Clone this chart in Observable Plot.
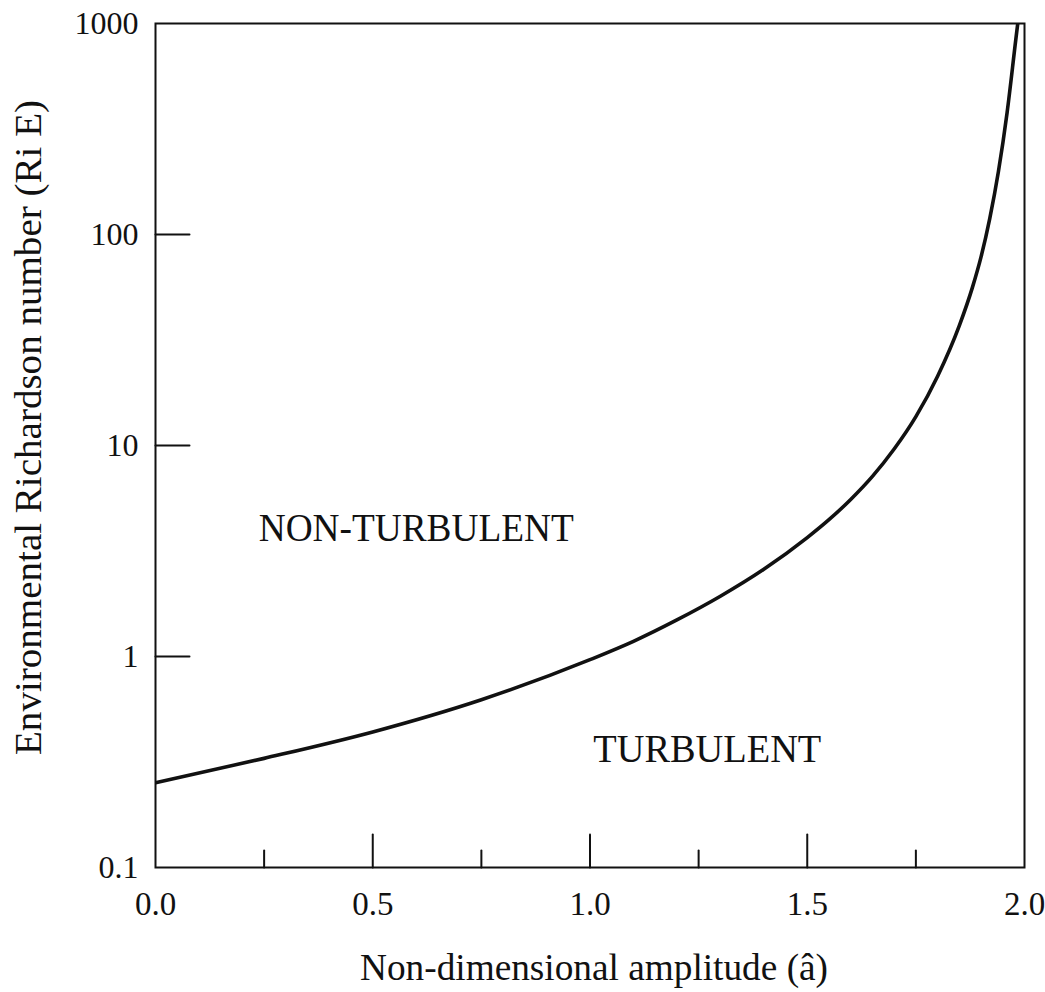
<!DOCTYPE html>
<html>
<head>
<meta charset="utf-8">
<script src="https://cdn.jsdelivr.net/npm/d3@7"></script>
<script src="https://cdn.jsdelivr.net/npm/@observablehq/plot@0.6"></script>
<style>
  html, body { margin: 0; padding: 0; background: #fff; }
  #chart svg { display: block; }
</style>
</head>
<body>
<div id="chart"></div>
<script>
// ---- data ----
const amplitude  = [0, 0.25, 0.5, 0.75, 1.0, 1.1, 1.2, 1.3, 1.4, 1.5, 1.55, 1.6, 1.65, 1.7, 1.75, 1.8, 1.85, 1.88, 1.9, 1.92, 1.94, 1.96, 1.98, 1.9845];
const richardson = [0.252, 0.329, 0.439, 0.624, 0.966, 1.18, 1.49, 1.93, 2.59, 3.66, 4.45, 5.55, 7.14, 9.62, 13.7, 21.3, 37.0, 56.0, 78.3, 119, 199, 379, 839, 1000];

const xTickValues = [0, 0.5, 1.0, 1.5, 2.0];
const xMajorTicks = [0.5, 1.0, 1.5];
const xMinorTicks = [0.25, 0.75, 1.25, 1.75];
const yTickValues = [0.1, 1, 10, 100, 1000];
const yTickLabels = ["0.1", "1", "10", "100", "1000"];
const yInnerTicks = [1, 10, 100];

const regionNames     = ["NON-TURBULENT", "TURBULENT"];
const regionAmplitude = [0.60, 1.27];
const regionRi        = [4.07, 0.362];

const xTitle = "Non-dimensional amplitude (\u00e2)";
const yTitle = "Environmental Richardson number (Ri E)";

// ---- styling ----
const ink = "#111";
const serif = "'Liberation Serif', 'Times New Roman', Times, serif";
const textLengths = new Map([
  ["NON-TURBULENT", 315],
  ["TURBULENT", 228],
  [xTitle, 468],
  [yTitle, 655]
]);
const tickShape = {
  draw(context, l) { context.moveTo(0, 0); context.lineTo(0, -l); }
};

const curve = amplitude.map((a, i) => ({a, ri: richardson[i]}));

const chart = Plot.plot({
  width: 1045,
  height: 992,
  marginLeft: 155,
  marginRight: 21,
  marginTop: 23,
  marginBottom: 125,
  style: {fontFamily: serif, color: ink, background: "#fff"},
  x: {domain: [0, 2]},
  y: {type: "log", domain: [0.1, 1000]},
  marks: [
    Plot.axisX(xTickValues, {
      tickSize: 0, tickPadding: 24, fontSize: 33,
      tickFormat: d3.format(".1f"), label: null
    }),
    Plot.axisY(yTickValues, {
      tickSize: 0, tickPadding: 17, fontSize: 32,
      tickFormat: d => yTickLabels[yTickValues.indexOf(d)], label: null
    }),
    Plot.frame({stroke: ink, strokeWidth: 2}),
    Plot.vector(xMajorTicks, {
      x: d => d, frameAnchor: "bottom", length: 33, rotate: 0,
      anchor: "start", shape: tickShape, stroke: ink, strokeWidth: 2, fill: "none"
    }),
    Plot.vector(xMinorTicks, {
      x: d => d, frameAnchor: "bottom", length: 17, rotate: 0,
      anchor: "start", shape: tickShape, stroke: ink, strokeWidth: 2, fill: "none"
    }),
    Plot.vector(yInnerTicks, {
      y: d => d, frameAnchor: "left", length: 34, rotate: 90,
      anchor: "start", shape: tickShape, stroke: ink, strokeWidth: 2, fill: "none"
    }),
    Plot.line(curve, {
      x: "a", y: "ri", curve: "monotone-x",
      stroke: ink, strokeWidth: 3.6, clip: true
    }),
    Plot.text(regionNames, {
      x: (d, i) => regionAmplitude[i], y: (d, i) => regionRi[i], text: d => d,
      fontSize: 40, fill: ink
    }),
    Plot.text([xTitle], {
      text: d => d, frameAnchor: "bottom", textAnchor: "middle", lineAnchor: "middle",
      dx: 4, dy: 101, fontSize: 37, fill: ink
    }),
    Plot.text([yTitle], {
      text: d => d, frameAnchor: "left", textAnchor: "middle", lineAnchor: "middle",
      rotate: -90, dx: -127, dy: -18, fontSize: 38, fill: ink
    })
  ]
});

d3.select(chart).selectAll("text").each(function () {
  const len = textLengths.get(this.textContent);
  if (len) {
    d3.select(this).attr("textLength", len).attr("lengthAdjust", "spacingAndGlyphs");
  }
});

document.getElementById("chart").appendChild(chart);
</script>
</body>
</html>
